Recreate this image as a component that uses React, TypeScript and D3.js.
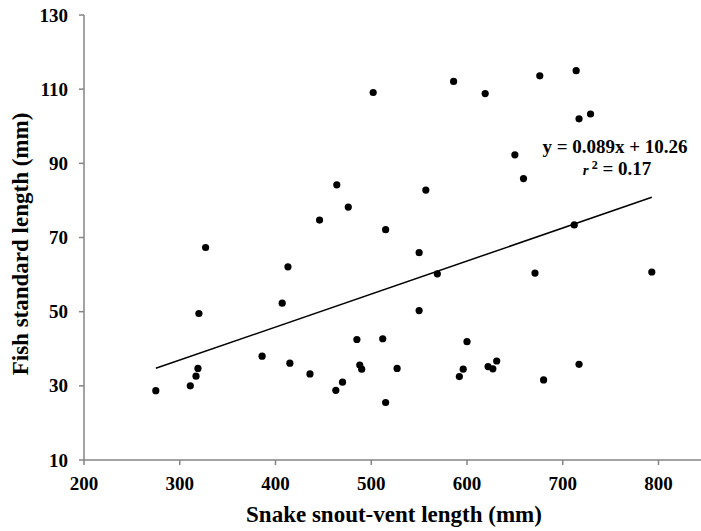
import React from 'react';
import * as d3 from 'd3';

// snake snout-vent length (mm) vs fish standard length (mm)
const snoutVent = [275, 311, 317, 319, 320, 327, 386, 407, 413, 415, 436, 446, 463, 464, 470, 476, 485, 488, 490, 502, 512, 515, 515, 527, 550, 550, 557, 569, 586, 592, 596, 600, 619, 622, 627, 631, 650, 659, 671, 676, 680, 712, 714, 717, 717, 729, 793];
const fishLength = [28.7, 30.0, 32.6, 34.7, 49.5, 67.3, 38.0, 52.3, 62.1, 36.1, 33.2, 74.7, 28.8, 84.2, 31.0, 78.2, 42.5, 35.6, 34.5, 109.1, 42.7, 72.1, 25.5, 34.7, 65.9, 50.3, 82.8, 60.2, 112.1, 32.5, 34.5, 41.9, 108.8, 35.2, 34.6, 36.7, 92.3, 85.9, 60.4, 113.6, 31.6, 73.4, 115.0, 35.8, 102.0, 103.3, 60.7];

const xTicks = [200, 300, 400, 500, 600, 700, 800];
const yTicks = [10, 30, 50, 70, 90, 110, 130];

const slope = 0.089;
const intercept = 10.26;
const equationLabel = 'y = 0.089x + 10.26';
const r2Label = '0.17';

const width = 701;
const height = 531;
const font = "'Liberation Serif', 'Times New Roman', 'DejaVu Serif', serif";
const axisColor = '#858585';

export default function App() {
  const x = d3.scaleLinear().domain([200, 845]).range([84, 701.6]);
  const y = d3.scaleLinear().domain([10, 130]).range([460, 15]);

  const [xMin, xMax] = d3.extent(snoutVent) as [number, number];
  const fitLine = d3.line<number>()
    .x(d => x(d))
    .y(d => y(slope * d + intercept));

  return (
    <svg width={width} height={height}
      style={{ position: 'absolute', left: 0, top: 0, background: '#fff', fontFamily: font, fontWeight: 'bold' }}>
      {/* axes */}
      <line x1={x(200)} x2={x(200)} y1={y(130)} y2={y(10)} stroke={axisColor} strokeWidth={1.5} />
      <line x1={x(200)} x2={width} y1={y(10)} y2={y(10)} stroke={axisColor} strokeWidth={1.5} />
      {yTicks.map(t => (
        <g key={'y' + t}>
          <line x1={x(200) - 5} x2={x(200)} y1={y(t)} y2={y(t)} stroke={axisColor} strokeWidth={1.5} />
          <text x={x(200) - 16} y={y(t)} dy="0.35em" textAnchor="end" fontSize={19}>{t}</text>
        </g>
      ))}
      {xTicks.map(t => (
        <g key={'x' + t}>
          <line x1={x(t)} x2={x(t)} y1={y(10)} y2={y(10) + 5} stroke={axisColor} strokeWidth={1.5} />
          <text x={x(t)} y={490} textAnchor="middle" fontSize={19}>{t}</text>
        </g>
      ))}

      {/* axis titles */}
      <text x={394} y={522} textAnchor="middle" fontSize={23}>Snake snout-vent length (mm)</text>
      <text transform="translate(28,244) rotate(-90)" textAnchor="middle" fontSize={23}>Fish standard length (mm)</text>

      {/* regression */}
      <path d={fitLine([xMin, xMax]) || ''} fill="none" stroke="#000" strokeWidth={1.5} />

      {snoutVent.map((v, i) => (
        <circle key={i} cx={x(v)} cy={y(fishLength[i])} r={3.6} fill="#000" />
      ))}

      <text x={615} y={153} textAnchor="middle" fontSize={19}>{equationLabel}</text>
      <text x={617} y={175} textAnchor="middle" fontSize={19}>
        <tspan fontStyle="italic" fontSize={15}>r</tspan>
        <tspan fontSize={12} dy={-6}> 2</tspan>
        <tspan dy={6}> = {r2Label}</tspan>
      </text>
    </svg>
  );
}
